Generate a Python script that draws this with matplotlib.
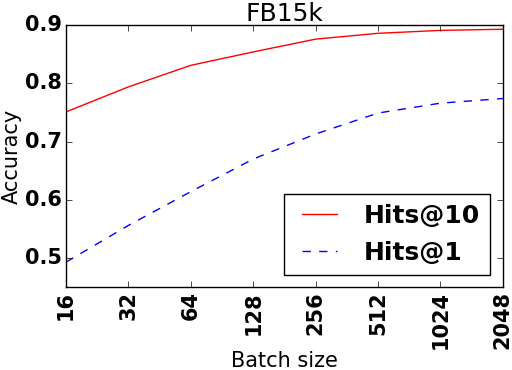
import numpy as np
import matplotlib
matplotlib.use("Agg")
import matplotlib.pyplot as plt

batch_sizes = ["16", "32", "64", "128", "256", "512", "1024", "2048"]
hits10 = [0.751, 0.794, 0.831, 0.854, 0.876, 0.886, 0.891, 0.893]
hits1 = [0.493, 0.556, 0.614, 0.670, 0.713, 0.749, 0.766, 0.774]

plt.style.use("classic")
fig, ax = plt.subplots(figsize=(5.12, 3.7), dpi=100)
fig.patch.set_facecolor("white")

x = np.arange(len(batch_sizes))
ax.plot(x, hits10, color="red", linestyle="-", label="Hits@10")
ax.plot(x, hits1, color="blue", linestyle="--", label="Hits@1")

ax.set_xlim(0, len(batch_sizes) - 1)
ax.set_ylim(0.45, 0.9)
ax.set_yticks([0.5, 0.6, 0.7, 0.8, 0.9])
ax.set_xticks(x)
ax.set_xticklabels(batch_sizes, rotation=90, fontsize=15, fontweight="bold")
for lbl in ax.get_yticklabels():
    lbl.set_fontsize(15)
    lbl.set_fontweight("bold")
ax.tick_params(axis="both", pad=3)

ax.set_title("FB15k", fontsize=18, pad=3)
ax.set_xlabel("Batch size", fontsize=15)
ax.xaxis.set_label_coords(0.5, -0.245)
ax.set_ylabel("Accuracy", fontsize=15)
ax.yaxis.set_label_coords(-0.102, 0.5)
ax.legend(loc="lower right", prop={"size": 18, "weight": "bold"},
          handlelength=2.0, borderaxespad=0.5)

fig.subplots_adjust(left=0.129, right=0.982, top=0.932, bottom=0.224)
fig.savefig("out.png", dpi=100)
